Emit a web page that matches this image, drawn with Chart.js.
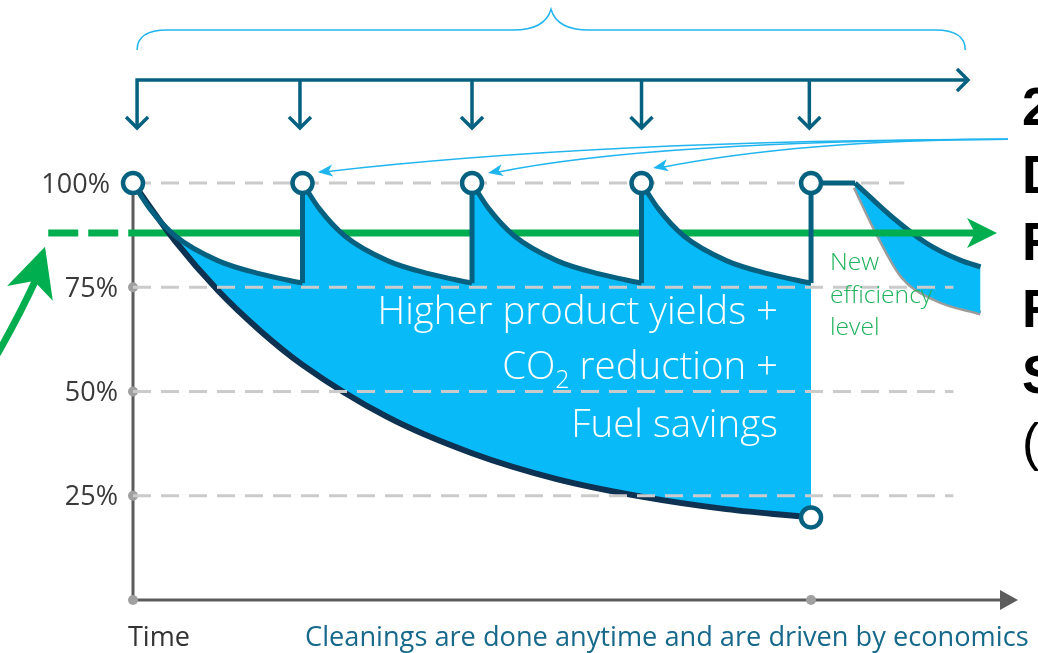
<!DOCTYPE html>
<html>
<head>
<meta charset="utf-8">
<title>Cleanings and efficiency</title>
<script src="https://cdn.jsdelivr.net/npm/chart.js@4.4.1/dist/chart.umd.min.js"></script>
<style>
  html, body { margin: 0; padding: 0; background: #fff; overflow: hidden; }
  canvas { display: block; }
</style>
</head>
<body>
<canvas id="myChart" width="1038" height="653"></canvas>
<script>
// x = time in cleaning intervals, y = efficiency in %
const cleaningTimes = [0, 1, 2, 3, 4];
const yTicks = [25, 50, 75, 100];

// efficiency when the unit is never cleaned
const foulingTimes = [0, 0.25, 0.5, 0.75, 1, 1.5, 2, 2.5, 3, 3.5, 4];
const foulingValues = [100, 86, 74.3, 64.6, 56.4, 43.9, 35.2, 29, 24.8, 21.8, 19.8];

// one run between two cleanings (time after the cleaning)
const runOffsets = [0, 0.1, 0.25, 0.5, 0.75, 1];
const runValues = [100, 93.8, 87.3, 81.4, 78.2, 76];

// after the last cleaning
const afterTimes = [4, 4.26, 4.48, 4.68, 4.88, 5.0];
const afterValues = [100, 100, 91.8, 85.6, 81.5, 79.9];
const shadowTimes = [4.26, 4.39, 4.54, 4.74, 5.0];
const shadowValues = [99, 88, 77.5, 72, 68.8];

// new efficiency level
const levelValue = 88;
const levelDashed = [-0.5, 0];
const levelSolid = [0, 5.0];

// where each dashed grid line stops
const gridEnds = [4.84, 4.84, 4.84, 4.55];

const benefitLines = ['Higher product yields +', 'CO2 reduction +', 'Fuel savings'];
const levelLines = ['New', 'efficiency', 'level'];
const sideLetters = ['2', 'D', 'F', 'F', 'S', '('];

const TEAL = '#05617f', NAVY = '#0e3251', FILL = '#08bbf8', GREEN = '#00ae4f';
const SKY = '#21b5ef', GRID = '#cbcbcb', AXIS = '#5c5c5c';
const FONT = '"Open Sans"';

document.addEventListener('DOMContentLoaded', () => {
    const pts = (xs, ys) => xs.map((x, i) => ({x: x, y: ys[i]}));
    const lastRun = runValues[runValues.length - 1];
    const datasets = [];

    // 0: no-cleaning curve
    datasets.push({data: pts(foulingTimes, foulingValues), borderColor: NAVY, borderWidth: 6,
        cubicInterpolationMode: 'monotone', order: 6});
    const navyIdx = 0;

    // fills between each run and the no-cleaning curve
    cleaningTimes.slice(0, 4).forEach((c, i) => {
        const d = pts(runOffsets.map(o => c + o), runValues);
        if (i < 3) d.push({x: c + 1.006, y: lastRun});   // hide the seam at the next cleaning
        datasets.push({data: d, borderWidth: 0, borderColor: 'rgba(0,0,0,0)', backgroundColor: FILL,
            fill: {target: navyIdx}, cubicInterpolationMode: 'monotone', order: 7});
    });
    // run lines
    cleaningTimes.slice(0, 4).forEach(c => {
        datasets.push({data: pts(runOffsets.map(o => c + o), runValues), borderColor: TEAL,
            borderWidth: 5, cubicInterpolationMode: 'monotone', order: 5});
    });
    // jumps back to 100% at each cleaning
    cleaningTimes.slice(1).forEach(c => {
        datasets.push({data: [{x: c, y: lastRun}, {x: c, y: 100}],
            borderColor: TEAL, borderWidth: 5, order: 5});
    });
    // after the last cleaning: flat part
    datasets.push({data: pts(afterTimes.slice(0, 2), afterValues.slice(0, 2)), borderColor: TEAL,
        borderWidth: 5, order: 5});
    // grey shadow curve
    const shadowIdx = datasets.length;
    datasets.push({data: pts(shadowTimes, shadowValues), borderColor: '#9b9b9b', borderWidth: 5,
        cubicInterpolationMode: 'monotone', order: 10});
    datasets.push({data: pts(afterTimes.slice(1), afterValues.slice(1)), borderColor: TEAL,
        borderWidth: 5, backgroundColor: FILL, fill: {target: shadowIdx},
        cubicInterpolationMode: 'monotone', order: 9});
    // green level line
    datasets.push({data: pts(levelDashed, [levelValue, levelValue]), borderColor: GREEN,
        borderWidth: 7, borderDash: [30, 10], order: 8});
    const greenIdx = datasets.length;
    datasets.push({data: pts(levelSolid, [levelValue, levelValue]), borderColor: GREEN,
        borderWidth: 7, order: 8});
    // dashed grid lines: over the fill and the navy curve, under the teal lines
    yTicks.forEach((v, i) => {
        datasets.push({data: [{x: 0, y: v}, {x: gridEnds[i], y: v}], borderColor: GRID,
            borderWidth: 3, borderDash: [18, 10], order: 5.5});
    });
    // cleaning markers
    datasets.push({data: cleaningTimes.map(t => ({x: t, y: 100}))
            .concat([{x: foulingTimes[foulingTimes.length - 1], y: foulingValues[foulingValues.length - 1]}]),
        showLine: false, pointRadius: 10, pointBorderWidth: 4.5, pointBackgroundColor: '#fff',
        pointBorderColor: TEAL, order: 1});

    const P = (chart, t, v) => [chart.scales.x.getPixelForValue(t), chart.scales.y.getPixelForValue(v)];

    function stealth(ctx, tip, from, len, hw, notch) {
        const a = Math.atan2(tip[1] - from[1], tip[0] - from[0]);
        const c = Math.cos(a), s = Math.sin(a);
        const pt = (along, side) => [tip[0] - c * along - s * side, tip[1] - s * along + c * side];
        const b1 = pt(len, hw), b2 = pt(len, -hw), n = pt(len - notch, 0);
        ctx.beginPath();
        ctx.moveTo(tip[0], tip[1]);
        ctx.lineTo(b1[0], b1[1]);
        ctx.lineTo(n[0], n[1]);
        ctx.lineTo(b2[0], b2[1]);
        ctx.closePath();
        ctx.fill();
    }

    // font size that makes text the wanted width
    function fitFont(ctx, text, width, weight) {
        ctx.font = weight + ' 20px ' + FONT;
        const size = 20 * width / ctx.measureText(text).width;
        return weight + ' ' + size.toFixed(1) + 'px ' + FONT;
    }

    const decor = {
        id: 'decor',
        beforeDatasetsDraw(chart) {
            const ctx = chart.ctx;
            const [x0, y0] = P(chart, 0, 0);
            const yTop = P(chart, 0, 100)[1];
            const xEnd = chart.chartArea.right;
            ctx.save();
            ctx.strokeStyle = AXIS;
            ctx.lineWidth = 3;
            ctx.beginPath();
            ctx.moveTo(x0, yTop);
            ctx.lineTo(x0, y0);
            ctx.lineTo(xEnd - 14, y0);
            ctx.stroke();
            ctx.fillStyle = AXIS;
            ctx.beginPath();
            ctx.moveTo(xEnd, y0);
            ctx.lineTo(xEnd - 18, y0 - 10);
            ctx.lineTo(xEnd - 18, y0 + 10);
            ctx.closePath();
            ctx.fill();
            ctx.fillStyle = '#a0a0a0';
            [0].concat(yTicks).forEach(v => {
                const [x, y] = P(chart, 0, v);
                ctx.beginPath(); ctx.arc(x, y, 5, 0, Math.PI * 2); ctx.fill();
            });
            const [xd, yd] = P(chart, cleaningTimes[4], 0);
            ctx.beginPath(); ctx.arc(xd, yd, 5, 0, Math.PI * 2); ctx.fill();

            // y tick labels (the 100% one sits left of the marker)
            ctx.fillStyle = '#3b3b3b';
            ctx.font = '27px ' + FONT;
            ctx.textAlign = 'right';
            ctx.textBaseline = 'middle';
            yTicks.forEach(v => {
                const [x, y] = P(chart, 0, v);
                ctx.fillText(v + '%', x - (v === 100 ? 23 : 15), y + 2);
            });
            ctx.restore();
        },
        afterDatasetDraw(chart, args) {
            if (args.index !== greenIdx) return;
            const ctx = chart.ctx;
            ctx.save();
            ctx.fillStyle = GREEN;
            stealth(ctx, P(chart, 5.097, levelValue), P(chart, 4.9, levelValue), 30, 15, 8);
            ctx.restore();
        },
        afterDatasetsDraw(chart) {
            const ctx = chart.ctx;
            ctx.save();

            // bracket on top
            const L = P(chart, 0.024, 0)[0], R = P(chart, 4.91, 0)[0], M = P(chart, 2.466, 0)[0];
            const yLow = P(chart, 0, 131.9)[1], yLine = P(chart, 0, 136.7)[1], yPeak = P(chart, 0, 141.7)[1];
            ctx.strokeStyle = SKY;
            ctx.lineWidth = 1.5;
            ctx.beginPath();
            ctx.moveTo(L, yLow);
            ctx.quadraticCurveTo(L, yLine, L + 30, yLine);
            ctx.lineTo(M - 38, yLine);
            ctx.quadraticCurveTo(M - 6, yLine, M, yPeak);
            ctx.quadraticCurveTo(M + 6, yLine, M + 38, yLine);
            ctx.lineTo(R - 30, yLine);
            ctx.quadraticCurveTo(R, yLine, R, yLow);
            ctx.stroke();

            // cleaning timeline with arrows
            const arrowTimes = [0.024, 0.985, 2.0, 3.0, 3.99];
            const yT = P(chart, 0, 124.7)[1], yB = P(chart, 0, 113.2)[1];
            const xs = arrowTimes.map(t => P(chart, t, 0)[0]);
            const xLineEnd = P(chart, 4.926, 0)[0];
            ctx.strokeStyle = TEAL;
            ctx.lineWidth = 3.5;
            ctx.beginPath();
            ctx.moveTo(xs[0], yB);
            ctx.lineTo(xs[0], yT);
            ctx.lineTo(xLineEnd, yT);
            xs.slice(1).forEach(x => { ctx.moveTo(x, yT); ctx.lineTo(x, yB); });
            ctx.stroke();
            ctx.beginPath();
            xs.forEach(x => { ctx.moveTo(x - 11, yB - 11); ctx.lineTo(x, yB); ctx.lineTo(x + 11, yB - 11); });
            ctx.moveTo(xLineEnd - 11, yT - 11); ctx.lineTo(xLineEnd, yT); ctx.lineTo(xLineEnd - 11, yT + 11);
            ctx.stroke();

            // thin arrows pointing at the cleanings
            const origin = P(chart, 5.162, 110.5);
            const targets = [[1.09, 102.6, 2.755, 110.3], [2.094, 102.4, 3.05, 110.1], [3.068, 103.6, 3.935, 110.3]];
            ctx.strokeStyle = SKY;
            ctx.fillStyle = SKY;
            ctx.lineWidth = 1.5;
            targets.forEach(tg => {
                const end = P(chart, tg[0], tg[1]), ctl = P(chart, tg[2], tg[3]);
                ctx.beginPath();
                ctx.moveTo(origin[0], origin[1]);
                ctx.quadraticCurveTo(ctl[0], ctl[1], end[0] + 8, end[1] - 0.5);
                ctx.stroke();
                stealth(ctx, end, ctl, 15, 6, 4);
            });

            // green arrow coming in from the left
            ctx.strokeStyle = GREEN;
            ctx.fillStyle = GREEN;
            ctx.lineWidth = 7;
            const s0 = P(chart, -0.80, 59), s1 = P(chart, -0.66, 69), s2 = P(chart, -0.56, 78);
            ctx.beginPath();
            ctx.moveTo(s0[0], s0[1]);
            ctx.quadraticCurveTo(s1[0], s1[1], s2[0], s2[1]);
            ctx.stroke();
            stealth(ctx, P(chart, -0.519, 84.7), P(chart, -0.608, 73.5), 49, 24, 13);

            // benefit text inside the blue area
            ctx.fillStyle = '#ffffff';
            ctx.textAlign = 'right';
            ctx.textBaseline = 'alphabetic';
            const xr = P(chart, 3.805, 0)[0];
            const base = [66.2, 53, 39.1].map(v => P(chart, 0, v)[1]);
            const bigFont = fitFont(ctx, benefitLines[0], 401, '300');
            const bigSize = parseFloat(bigFont.split(' ')[1]);
            ctx.font = bigFont;
            ctx.fillText(benefitLines[0], xr, base[0]);
            const rest = benefitLines[1].slice(3);
            const wRest = ctx.measureText(rest).width;
            ctx.fillText(rest, xr, base[1]);
            ctx.font = '300 ' + (bigSize * 0.65).toFixed(1) + 'px ' + FONT;
            const wSub = ctx.measureText('2').width;
            ctx.fillText('2', xr - wRest, base[1] + 9);
            ctx.font = bigFont;
            ctx.fillText('CO', xr - wRest - wSub, base[1]);
            ctx.fillText(benefitLines[2], xr, base[2]);

            // new efficiency level label
            ctx.fillStyle = '#1fb25c';
            ctx.textAlign = 'left';
            ctx.font = fitFont(ctx, levelLines[1], 102, '300');
            const xl = P(chart, 4.112, 0)[0];
            [79.1, 71.2, 63.5].forEach((v, i) => ctx.fillText(levelLines[i], xl, P(chart, 0, v)[1]));

            // heading cut off at the right edge
            ctx.fillStyle = '#000000';
            const xh = P(chart, 5.245, 0)[0];
            [113.9, 97.6, 81.5, 65.5, 49.6, 33.6].forEach((v, i) => {
                ctx.font = sideLetters[i] === '(' ? '52px "Liberation Sans"' : 'bold 53px "Liberation Sans"';
                ctx.fillText(sideLetters[i], xh, P(chart, 0, v)[1]);
            });

            // bottom labels
            const yb = P(chart, 0, -11)[1];
            ctx.fillStyle = '#333333';
            ctx.font = fitFont(ctx, 'Time', 62, '400');
            ctx.fillText('Time', P(chart, -0.03, 0)[0], yb);
            ctx.fillStyle = '#17698c';
            const note = 'Cleanings are done anytime and are driven by economics';
            ctx.font = fitFont(ctx, note, 725, '400');
            ctx.fillText(note, P(chart, 1.015, 0)[0], yb);
            ctx.restore();
        }
    };

    const config = {
        type: 'line',
        data: {datasets: datasets},
        options: {
            responsive: false,
            animation: false,
            events: [],
            layout: {autoPadding: false, padding: {left: 133, right: 20, top: 0, bottom: 53}},
            datasets: {line: {clip: false}},
            elements: {point: {radius: 0}, line: {borderCapStyle: 'butt'}},
            scales: {
                x: {type: 'linear', min: 0, max: 5.221, display: false},
                y: {type: 'linear', min: 0, max: 143.9, display: false}
            },
            plugins: {legend: {display: false}, tooltip: {enabled: false}}
        },
        plugins: [decor]
    };

    new Chart(document.getElementById('myChart'), config);
});
</script>
</body>
</html>
